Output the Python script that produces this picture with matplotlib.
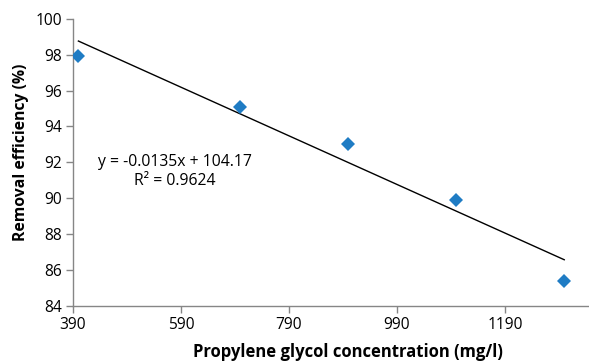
import matplotlib
matplotlib.use("Agg")
import matplotlib.pyplot as plt
import numpy as np

concentration = [400, 700, 900, 1100, 1300]
efficiency = [97.9, 95.1, 93.0, 89.9, 85.4]
x_ticks = [390, 590, 790, 990, 1190]
y_ticks = [84, 86, 88, 90, 92, 94, 96, 98, 100]
equation_text = "y = -0.0135x + 104.17\nR\u00b2 = 0.9624"

plt.rcParams['font.family'] = ['Open Sans', 'DejaVu Sans']

fig = plt.figure(figsize=(5.89, 3.62), dpi=100)
W, H = 589, 362
ax = fig.add_axes([73 / W, (H - 306) / H, (588 - 73) / W, (306 - 18.7) / H])

x = np.array(concentration, dtype=float)
y = np.array(efficiency, dtype=float)
slope, intercept = np.polyfit(x, y, 1)
ax.plot([x.min(), x.max()], [slope * x.min() + intercept, slope * x.max() + intercept],
        color='black', lw=1.0, zorder=2)
ax.plot(x, y, linestyle='none', marker='D', markersize=7.2, color='#1F7CC4',
        markeredgewidth=0, zorder=3)

ax.set_xlim(390, 1344)
ax.set_ylim(84, 100)
ax.set_xticks(x_ticks)
ax.set_yticks(y_ticks)
ax.set_xticklabels([str(t) for t in x_ticks])
ax.set_yticklabels([str(t) for t in y_ticks])

for s in ['top', 'right']:
    ax.spines[s].set_visible(False)
for s in ['left', 'bottom']:
    ax.spines[s].set_color('#868686')
    ax.spines[s].set_linewidth(1.0)
ax.tick_params(axis='both', direction='out', length=5, width=1.0, color='#868686',
               labelsize=11.2, labelcolor='black')
ax.tick_params(axis='x', pad=3)
ax.tick_params(axis='y', pad=3)

ax.text(578, 91.5, equation_text, ha='center', va='center', fontsize=11.3,
        multialignment='center', linespacing=1.2)

fig.text(347.5 / W, (H - 356.7) / H, "Propylene glycol concentration (mg/l)",
         fontsize=12, fontweight='bold', ha='center', va='baseline')
fig.text(21 / W, (H - 152.5) / H, "Removal efficiency (%)", rotation=90,
         fontsize=11.3, fontweight='bold', ha='center', va='center')

fig.savefig("out.png", dpi=100)
